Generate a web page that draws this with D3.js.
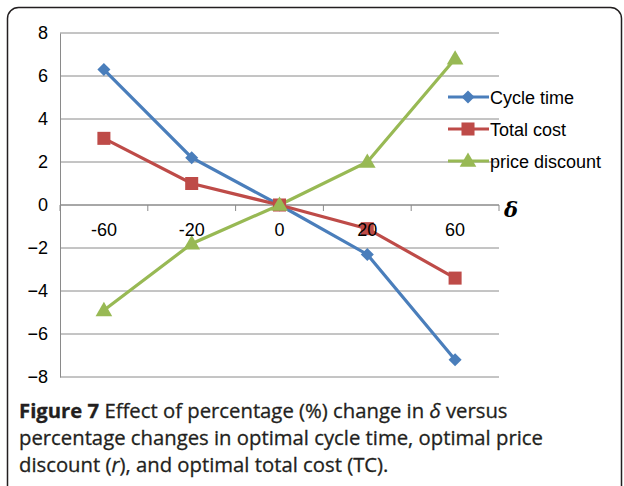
<!DOCTYPE html>
<html>
<head>
  <meta charset="utf-8">
  <script src="https://d3js.org/d3.v7.min.js"></script>
  <style type="text/css">
    body { margin: 0; background: #fff; }
    svg { display: block; }
  </style>
</head>
<body>
<svg id="chart" width="624" height="486"></svg>
<script>
  // data
  const categories = ['-60', '-20', '0', '20', '60'];
  const cycleTime = [6.3, 2.2, 0, -2.3, -7.2];
  const totalCost = [3.1, 1.0, 0, -1.1, -3.4];
  const priceDiscount = [-4.9, -1.8, 0, 2.0, 6.8];
  const yTicks = [-8, -6, -4, -2, 0, 2, 4, 6, 8];

  const series = [
    { name: 'Cycle time', values: cycleTime, color: '#4a7ebb', shape: 'diamond' },
    { name: 'Total cost', values: totalCost, color: '#be4b48', shape: 'square' },
    { name: 'price discount', values: priceDiscount, color: '#98b954', shape: 'triangle' }
  ];

  const svg = d3.select('#chart');
  const font = 'Liberation Sans, Arial, sans-serif';

  // outer frame
  svg.append('rect')
    .attr('x', 7.5).attr('y', 7.5)
    .attr('width', 614).attr('height', 490)
    .attr('rx', 11)
    .attr('fill', 'none')
    .attr('stroke', '#231f20')
    .attr('stroke-width', 1.5);

  const x = d3.scaleBand().domain(categories).range([60, 499]);
  const y = d3.scaleLinear().domain([-8, 8]).range([377, 33]);
  const cx = c => x(c) + x.bandwidth() / 2;

  // gridlines
  svg.append('g').selectAll('line')
    .data(yTicks)
    .join('line')
    .attr('x1', 60).attr('x2', 499)
    .attr('y1', d => y(d)).attr('y2', d => y(d))
    .attr('stroke', '#8a8a8a')
    .attr('stroke-width', 1);

  // y axis
  const yAxis = svg.append('g')
    .attr('transform', 'translate(60 0)')
    .call(d3.axisLeft(y).tickValues(yTicks).tickSize(0).tickPadding(12));
  yAxis.select('.domain').attr('stroke', '#8a8a8a');
  yAxis.selectAll('text')
    .attr('font-family', font)
    .attr('font-size', 18)
    .attr('fill', '#000');

  // x axis at zero, ticks on band boundaries
  const bounds = categories.map(c => x(c)).concat([x(categories[categories.length - 1]) + x.bandwidth()]);
  svg.append('line')
    .attr('x1', 60).attr('x2', 499)
    .attr('y1', y(0)).attr('y2', y(0))
    .attr('stroke', '#8a8a8a');
  svg.append('g').selectAll('line')
    .data(bounds)
    .join('line')
    .attr('x1', d => d).attr('x2', d => d)
    .attr('y1', y(0)).attr('y2', y(0) + 6)
    .attr('stroke', '#8a8a8a');

  // lines
  const line = d3.line()
    .x((d, i) => cx(categories[i]))
    .y(d => y(d));

  series.forEach(s => {
    svg.append('path')
      .datum(s.values)
      .attr('fill', 'none')
      .attr('stroke', s.color)
      .attr('stroke-width', 3.2)
      .attr('d', line);
  });

  function marker(g, shape, color) {
    if (shape === 'diamond') {
      g.append('path')
        .attr('d', d3.symbol(d3.symbolSquare, 85)())
        .attr('transform', 'rotate(45)')
        .attr('fill', color);
    } else if (shape === 'square') {
      g.append('path')
        .attr('d', d3.symbol(d3.symbolSquare, 170)())
        .attr('fill', color);
    } else {
      g.append('path')
        .attr('d', d3.symbol(d3.symbolTriangle, 120)())
        .attr('transform', 'translate(0 1)')
        .attr('fill', color);
    }
  }

  series.forEach(s => {
    s.values.forEach((v, i) => {
      const g = svg.append('g')
        .attr('transform', `translate(${cx(categories[i])} ${y(v)})`);
      marker(g, s.shape, s.color);
    });
  });

  // x tick labels
  svg.append('g').selectAll('text')
    .data(categories)
    .join('text')
    .attr('x', d => cx(d))
    .attr('y', 236)
    .attr('text-anchor', 'middle')
    .attr('font-family', font)
    .attr('font-size', 18)
    .attr('fill', '#000')
    .text(d => d);

  // delta axis label
  svg.append('text')
    .attr('x', 504).attr('y', 217)
    .attr('font-family', 'DejaVu Serif, serif')
    .attr('font-size', 21)
    .attr('font-weight', 'bold')
    .attr('font-style', 'italic')
    .attr('fill', '#000')
    .text('δ');

  // legend
  const legend = svg.append('g');
  series.forEach((s, i) => {
    const ly = 97 + i * 32;
    legend.append('line')
      .attr('x1', 448).attr('x2', 489)
      .attr('y1', ly).attr('y2', ly)
      .attr('stroke', s.color)
      .attr('stroke-width', 3.2);
    const g = legend.append('g').attr('transform', `translate(468 ${ly})`);
    marker(g, s.shape, s.color);
    legend.append('text')
      .attr('x', 490).attr('y', ly + 7)
      .attr('font-family', font)
      .attr('font-size', 18)
      .attr('fill', '#000')
      .text(s.name);
  });

  // caption
  const cap = svg.append('g')
    .attr('font-family', 'Open Sans, Lato, sans-serif')
    .attr('font-size', 20.3)
    .attr('fill', '#231f20')
    .attr('stroke', '#231f20')
    .attr('stroke-width', 0.3);
  const l1 = cap.append('text').attr('x', 19).attr('y', 418);
  l1.append('tspan').attr('font-weight', 'bold').text('Figure 7');
  l1.append('tspan').text(' Effect of percentage (%) change in ');
  l1.append('tspan').attr('font-style', 'italic').text('δ');
  l1.append('tspan').text(' versus');
  cap.append('text').attr('x', 19).attr('y', 445)
    .text('percentage changes in optimal cycle time, optimal price');
  const l3 = cap.append('text').attr('x', 19).attr('y', 472);
  l3.append('tspan').text('discount (');
  l3.append('tspan').attr('font-style', 'italic').text('r');
  l3.append('tspan').text('), and optimal total cost (TC).');
</script>
</body>
</html>
